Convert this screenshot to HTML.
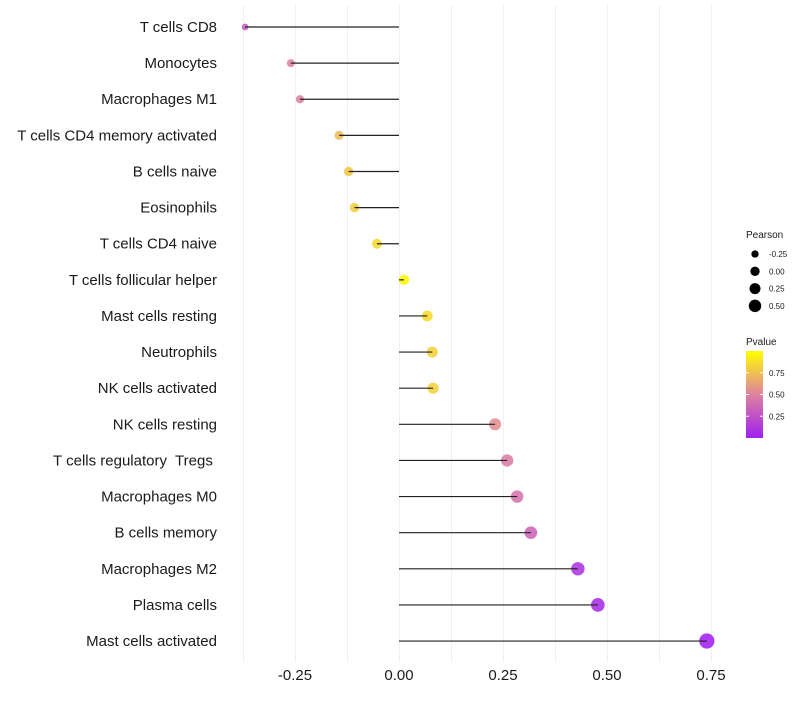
<!DOCTYPE html>
<html><head><meta charset="utf-8"><style>
body{margin:0;background:#fff;font-family:"Liberation Sans",sans-serif}
text{white-space:pre}
</style></head><body>
<svg id="c" width="800" height="700" xmlns="http://www.w3.org/2000/svg"></svg>
<script>
const categories=["T cells CD8","Monocytes","Macrophages M1","T cells CD4 memory activated","B cells naive","Eosinophils","T cells CD4 naive","T cells follicular helper","Mast cells resting","Neutrophils","NK cells activated","NK cells resting","T cells regulatory  Tregs ","Macrophages M0","B cells memory","Macrophages M2","Plasma cells","Mast cells activated"];
const pearson=[-0.37,-0.26,-0.238,-0.144,-0.121,-0.107,-0.053,0.012,0.068,0.08,0.082,0.231,0.26,0.284,0.317,0.43,0.478,0.74];
const pvalues=[0.3,0.5,0.5,0.72,0.78,0.8,0.85,0.97,0.85,0.82,0.82,0.55,0.47,0.42,0.35,0.1,0.06,0.001];
const xTicks=[-0.25,0,0.25,0.5,0.75];
const xTickLabels=["-0.25","0.00","0.25","0.50","0.75"];
const sizeLegend=[-0.25,0,0.25,0.5];
const sizeLegendLabels=["-0.25","0.00","0.25","0.50"];
const colorTicks=[0.25,0.5,0.75];

const NS="http://www.w3.org/2000/svg";
const svg=document.getElementById('c');
const x=v=>399+v*416;
const y=i=>27+i*36.12;
const r=v=>Math.sqrt(Math.max(2.5,27+42*v));
function lerp(a,b,t){return a.map((c,k)=>Math.round(c+(b[k]-c)*t));}
function col(p){const s0=[160,32,240],s1=[222,130,160],s2=[255,255,0];
 const c=p<0.5?lerp(s0,s1,p/0.5):lerp(s1,s2,(p-0.5)/0.5);return `rgb(${c.join(',')})`;}
function el(t,a,p){const e=document.createElementNS(NS,t);for(const k in a)e.setAttribute(k,a[k]);(p||svg).appendChild(e);return e;}

// grid
for(let v=-0.375;v<=0.76;v+=0.125){
 const gx=Math.round(x(v))+0.5;
 const g=el('line',{x1:gx,x2:gx,y1:5,y2:662,stroke:'#f0f0f0','stroke-width':1});
 
 
}
xTicks.forEach((v,i)=>{
 const t=el('text',{x:x(v),y:680,'text-anchor':'middle','font-size':15,fill:'#1a1a1a'});
 t.textContent=xTickLabels[i];
 
 
});
categories.forEach((c,i)=>{
 const t=el('text',{x:217,y:y(i)+5,'text-anchor':'end','font-size':15,fill:'#1a1a1a'});
 t.textContent=c;
 
 
 const d=el('circle',{cx:x(pearson[i]),cy:y(i),r:r(pearson[i]),fill:col(pvalues[i]),'fill-opacity':0.88});
 
 
 const l=el('line',{x1:x(0),x2:x(pearson[i]),y1:y(i),y2:y(i),stroke:'#222','stroke-width':1.2});
 
 
});
// legends
const lt=el('text',{x:746,y:238,'font-size':10,fill:'#1a1a1a'});lt.textContent='Pearson';


sizeLegend.forEach((v,i)=>{
 const cy=254+i*17.3;
 const c=el('circle',{cx:755,cy:cy,r:r(v)*0.9,fill:'#000'});
 
 
 const t=el('text',{x:769,y:cy+3,'font-size':8,fill:'#1a1a1a'});t.textContent=sizeLegendLabels[i];
 
 
});
const pt=el('text',{x:746,y:345,'font-size':10,fill:'#1a1a1a'});pt.textContent='Pvalue';


const defs=el('defs',{});
const lg=el('linearGradient',{id:'g',x1:0,y1:1,x2:0,y2:0},defs);
[[0,col(0)],[0.5,col(0.5)],[1,col(1)]].forEach(s=>el('stop',{offset:s[0],'stop-color':s[1]},lg));
const bar=el('rect',{x:746,y:351,width:17,height:87,fill:'url(#g)'});


colorTicks.forEach(v=>{
 const cy=438-v*87;
 el('line',{x1:746,x2:749,y1:cy,y2:cy,stroke:'#fff'});
 el('line',{x1:760,x2:763,y1:cy,y2:cy,stroke:'#fff'});
 const t=el('text',{x:769,y:cy+3,'font-size':8,fill:'#1a1a1a'});t.textContent=v.toFixed(2);
 
 
});
</script>
</body></html>
